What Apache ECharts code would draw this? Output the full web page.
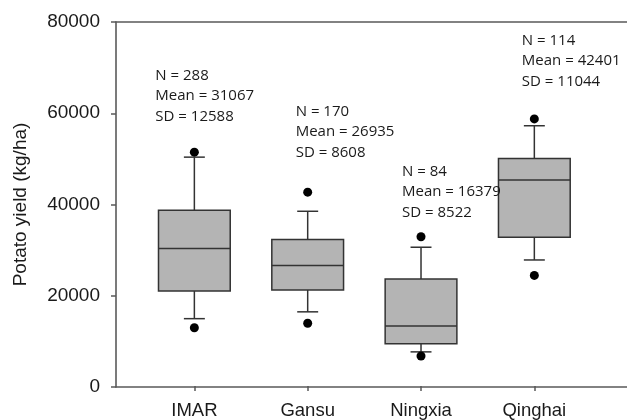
<!DOCTYPE html>
<html>
<head>
<meta charset="utf-8">
<script src="https://cdn.jsdelivr.net/npm/echarts@6/dist/echarts.min.js"></script>
<style>
  html, body { margin: 0; padding: 0; background: #fff; }
  #chart { width: 627px; height: 420px; }
</style>
</head>
<body>
<div id="chart"></div>
<script>
// Potato yield by region: box = quartiles, whiskers = 10th/90th percentiles,
// dots = 5th/95th percentiles.
const categories = ['IMAR', 'Gansu', 'Ningxia', 'Qinghai'];
const p5     = [12800, 13800, 6600, 24300];
const p10    = [14800, 16300, 7500, 27700];
const q1     = [20900, 21100, 9300, 32700];
const median = [30200, 26500, 13200, 45300];
const q3     = [38600, 32200, 23500, 50000];
const p90    = [50300, 38400, 30500, 57200];
const p95    = [51400, 42600, 32800, 58700];

const sampleN   = [288, 170, 84, 114];
const sampleMean = [31067, 26935, 16379, 42401];
const sampleSD  = [12588, 8608, 8522, 11044];

const yTicks = [0, 20000, 40000, 60000, 80000];

// Where each annotation block sits: horizontal pixel shift from the
// category centre, and the y value of its first line.
const noteLayout = {
  dx: [-39, -12, -19, -12.5],
  yFirst: [68200, 60300, 47200, 75900]
};

const boxData = categories.map((c, i) => [i, p10[i], q1[i], median[i], q3[i], p90[i]]);
const dotData = [];
categories.forEach((c, i) => { dotData.push([i, p5[i]]); dotData.push([i, p95[i]]); });
const noteData = categories.map((c, i) => [i, noteLayout.yFirst[i]]);

const chart = echarts.init(document.getElementById('chart'), null, { renderer: 'canvas' });

const axisGray = '#5a5a5a';
const lineDark = '#333333';
const tickFont = 'Liberation Sans, Arial, sans-serif';

chart.setOption({
  animation: false,
  grid: [
    // frame with the value scale
    { left: 116, top: 22, width: 540, bottom: 33 },
    // band for the boxes
    { left: 137.7, top: 22, width: 453.3, bottom: 33 }
  ],
  xAxis: [
    { gridIndex: 0, type: 'value', min: 0, max: 1, position: 'bottom',
      axisLine: { show: true, lineStyle: { color: axisGray, width: 1.6 } },
      axisTick: { show: false }, axisLabel: { show: false }, splitLine: { show: false } },
    { gridIndex: 0, type: 'value', min: 0, max: 1, position: 'top',
      axisLine: { show: true, onZero: false, lineStyle: { color: axisGray, width: 1.6 } },
      axisTick: { show: false }, axisLabel: { show: false }, splitLine: { show: false } },
    { gridIndex: 1, type: 'category', data: categories, position: 'bottom',
      boundaryGap: true,
      axisLine: { show: false },
      axisTick: { show: true, alignWithLabel: true, length: 5, lineStyle: { color: axisGray, width: 1.5 } },
      axisLabel: { margin: 15, color: '#1a1a1a', fontSize: 18.5, fontFamily: tickFont },
      splitLine: { show: false } }
  ],
  yAxis: [
    { gridIndex: 0, type: 'value', min: 0, max: 80000, interval: 20000,
      name: 'Potato yield (kg/ha)', nameLocation: 'middle', nameGap: 86,
      nameTextStyle: { color: '#1a1a1a', fontSize: 19, fontFamily: tickFont },
      axisLine: { show: true, lineStyle: { color: axisGray, width: 1.6 } },
      axisTick: { show: true, length: 5, lineStyle: { color: axisGray, width: 1.5 } },
      axisLabel: { margin: 16, color: '#1a1a1a', fontSize: 19, fontFamily: tickFont,
        formatter: v => (yTicks.indexOf(v) >= 0 ? String(v) : '') },
      splitLine: { show: false } },
    { gridIndex: 1, type: 'value', min: 0, max: 80000, interval: 20000, show: false }
  ],
  series: [
    {
      type: 'custom',
      xAxisIndex: 2, yAxisIndex: 1,
      data: boxData,
      renderItem: function (params, api) {
        const i = api.value(0);
        const band = api.size([1, 0])[0];
        const boxW = band * 0.633;
        const capW = band * 0.185;
        const pLo = api.coord([i, api.value(1)]);
        const pQ1 = api.coord([i, api.value(2)]);
        const pMd = api.coord([i, api.value(3)]);
        const pQ3 = api.coord([i, api.value(4)]);
        const pHi = api.coord([i, api.value(5)]);
        const cx = pMd[0];
        const stroke = { stroke: lineDark, lineWidth: 1.5, fill: null };
        return {
          type: 'group',
          children: [
            { type: 'line', shape: { x1: cx, y1: pQ3[1], x2: cx, y2: pHi[1] }, style: stroke },
            { type: 'line', shape: { x1: cx, y1: pQ1[1], x2: cx, y2: pLo[1] }, style: stroke },
            { type: 'line', shape: { x1: cx - capW / 2, y1: pHi[1], x2: cx + capW / 2, y2: pHi[1] }, style: stroke },
            { type: 'line', shape: { x1: cx - capW / 2, y1: pLo[1], x2: cx + capW / 2, y2: pLo[1] }, style: stroke },
            { type: 'rect', shape: { x: cx - boxW / 2, y: pQ3[1], width: boxW, height: pQ1[1] - pQ3[1] },
              style: { fill: '#b4b4b4', stroke: lineDark, lineWidth: 1.5 } },
            { type: 'line', shape: { x1: cx - boxW / 2, y1: pMd[1], x2: cx + boxW / 2, y2: pMd[1] }, style: stroke }
          ]
        };
      }
    },
    {
      type: 'scatter',
      xAxisIndex: 2, yAxisIndex: 1,
      data: dotData,
      symbol: 'circle', symbolSize: 9,
      itemStyle: { color: '#000', opacity: 1 },
      z: 5
    },
    {
      type: 'custom',
      xAxisIndex: 2, yAxisIndex: 1,
      data: noteData,
      renderItem: function (params, api) {
        const i = api.value(0);
        const p = api.coord([i, api.value(1)]);
        const lh = 20.5;
        return {
          type: 'text',
          style: {
            text: 'N = ' + sampleN[i] + '\nMean = ' + sampleMean[i] + '\nSD = ' + sampleSD[i],
            x: p[0] + noteLayout.dx[i],
            y: p[1] - lh / 2,
            fill: '#1a1a1a',
            font: '15px "Open Sans", sans-serif',
            lineHeight: lh,
            textAlign: 'left',
            textVerticalAlign: 'top'
          }
        };
      }
    }
  ]
});
</script>
</body>
</html>
